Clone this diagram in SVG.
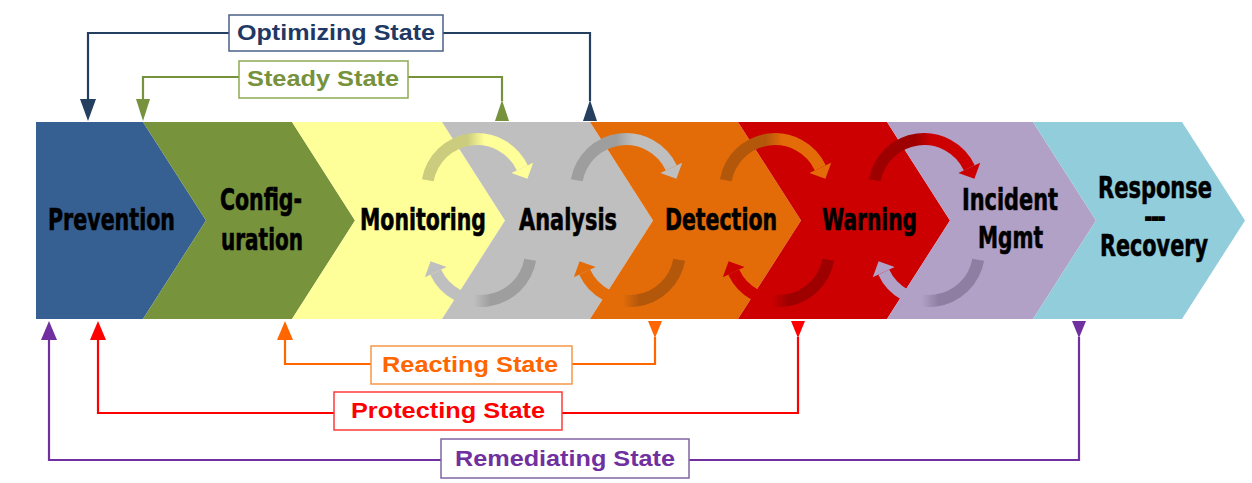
<svg xmlns="http://www.w3.org/2000/svg" width="1252" height="483" viewBox="0 0 1252 483">
  <style>
    .stage { font-family: "Liberation Sans Narrow", "DejaVu Sans Condensed", "Liberation Sans", sans-serif; font-weight: bold; font-size: 31px; fill: #000; stroke: #000; stroke-width: 0.6; }
    .dash { font-size: 20px; stroke-width: 1.8; }
    .state { font-family: "Liberation Sans", Arial, sans-serif; font-weight: bold; font-size: 22px; }
    .box { fill: #fff; stroke-width: 1.5; }
    .link { fill: none; stroke-width: 2.2; }
  </style>
  <defs>
    <!-- curved cycle arrow, drawn around its own centre -->
    <path id="arc" d="M -49.2 -8.7 A 50 50 0 0 1 45.3 -21.1" fill="none" stroke-width="12"/>
    <polygon id="head" points="56.2,-26.2 34.4,-16 50.4,-10.2"/>
    <linearGradient id="gYellow" x1="0" y1="0" x2="1" y2="0">
      <stop offset="0" stop-color="#CCCC7E"/><stop offset="0.42" stop-color="#CCCC7E"/>
      <stop offset="0.6" stop-color="#FFFF99"/><stop offset="1" stop-color="#FFFF99"/>
    </linearGradient>
    <linearGradient id="gGray" x1="0" y1="0" x2="1" y2="0">
      <stop offset="0" stop-color="#9E9E9E"/><stop offset="0.42" stop-color="#9E9E9E"/>
      <stop offset="0.6" stop-color="#BFBFBF"/><stop offset="1" stop-color="#BFBFBF"/>
    </linearGradient>
    <linearGradient id="gOrange" x1="0" y1="0" x2="1" y2="0">
      <stop offset="0" stop-color="#B3570B"/><stop offset="0.42" stop-color="#B3570B"/>
      <stop offset="0.6" stop-color="#E36C09"/><stop offset="1" stop-color="#E36C09"/>
    </linearGradient>
    <linearGradient id="gRed" x1="0" y1="0" x2="1" y2="0">
      <stop offset="0" stop-color="#9E0000"/><stop offset="0.42" stop-color="#9E0000"/>
      <stop offset="0.6" stop-color="#CC0000"/><stop offset="1" stop-color="#CC0000"/>
    </linearGradient>
    <linearGradient id="gLavender" x1="0" y1="0" x2="1" y2="0">
      <stop offset="0" stop-color="#8E7FA2"/><stop offset="0.42" stop-color="#8E7FA2"/>
      <stop offset="0.6" stop-color="#B2A1C7"/><stop offset="1" stop-color="#B2A1C7"/>
    </linearGradient>
  </defs>

  <rect width="1252" height="483" fill="#fff"/>

  <!-- process chevrons -->
  <g id="prevention">
    <polygon points="36,122 143,122 206,220.5 143,319 36,319" fill="#376092"/>
    <text class="stage" x="48" y="230" textLength="127" lengthAdjust="spacingAndGlyphs">Prevention</text>
  </g>
  <g id="configuration">
    <polygon points="143,122 292,122 355,220.5 292,319 143,319 206,220.5" fill="#77933C"/>
    <text class="stage" x="220" y="210" textLength="82" lengthAdjust="spacingAndGlyphs">Config-</text>
    <text class="stage" x="221" y="250" textLength="82" lengthAdjust="spacingAndGlyphs">uration</text>
  </g>
  <g id="monitoring">
    <polygon points="292,122 442,122 505,220.5 442,319 292,319 355,220.5" fill="#FFFF99"/>
    <text class="stage" x="360" y="230" textLength="126" lengthAdjust="spacingAndGlyphs">Monitoring</text>
  </g>
  <g id="analysis">
    <polygon points="442,122 590,122 653,220.5 590,319 442,319 505,220.5" fill="#BFBFBF"/>
    <text class="stage" x="519" y="230" textLength="98" lengthAdjust="spacingAndGlyphs">Analysis</text>
  </g>
  <g id="detection">
    <polygon points="590,122 738,122 801,220.5 738,319 590,319 653,220.5" fill="#E36C09"/>
    <text class="stage" x="665" y="230" textLength="112" lengthAdjust="spacingAndGlyphs">Detection</text>
  </g>
  <g id="warning">
    <polygon points="738,122 887,122 950,220.5 887,319 738,319 801,220.5" fill="#CC0000"/>
    <text class="stage" x="822" y="230" textLength="95" lengthAdjust="spacingAndGlyphs">Warning</text>
  </g>
  <g id="incident-mgmt">
    <polygon points="887,122 1033,122 1096,220.5 1033,319 887,319 950,220.5" fill="#B2A1C7"/>
    <text class="stage" x="962" y="210" textLength="96" lengthAdjust="spacingAndGlyphs">Incident</text>
    <text class="stage" x="978" y="248" textLength="65" lengthAdjust="spacingAndGlyphs">Mgmt</text>
  </g>
  <g id="response-recovery">
    <polygon points="1033,122 1182,122 1245,220.5 1182,319 1033,319 1096,220.5" fill="#92CDDC"/>
    <text class="stage" x="1098" y="198" textLength="114" lengthAdjust="spacingAndGlyphs">Response</text>
    <text class="stage dash" x="1145" y="224" textLength="20" lengthAdjust="spacingAndGlyphs">---</text>
    <text class="stage" x="1100" y="256" textLength="108" lengthAdjust="spacingAndGlyphs">Recovery</text>
  </g>

  <!-- cycle arrows between neighbouring stages -->
  <g id="cycle-arrows">
    <g transform="translate(477,189)"><use href="#arc" stroke="url(#gYellow)"/><use href="#head" fill="#FFFF99"/></g>
    <g transform="translate(626,189)"><use href="#arc" stroke="url(#gGray)"/><use href="#head" fill="#BFBFBF"/></g>
    <g transform="translate(775,189)"><use href="#arc" stroke="url(#gOrange)"/><use href="#head" fill="#E36C09"/></g>
    <g transform="translate(924,189)"><use href="#arc" stroke="url(#gRed)"/><use href="#head" fill="#CC0000"/></g>
    <g transform="translate(481,251) rotate(180)"><use href="#arc" stroke="url(#gGray)"/><use href="#head" fill="#BFBFBF"/></g>
    <g transform="translate(630,251) rotate(180)"><use href="#arc" stroke="url(#gOrange)"/><use href="#head" fill="#E36C09"/></g>
    <g transform="translate(779,251) rotate(180)"><use href="#arc" stroke="url(#gRed)"/><use href="#head" fill="#CC0000"/></g>
    <g transform="translate(929,251) rotate(180)"><use href="#arc" stroke="url(#gLavender)"/><use href="#head" fill="#B2A1C7"/></g>
  </g>

  <!-- state feedback loops -->
  <g id="connectors">
    <path class="link" stroke="#243F60" d="M 88 100 V 33 H 590 V 101"/>
    <polygon fill="#243F60" points="80,99 96,99 88,121"/>
    <polygon fill="#243F60" points="583,121 597,121 590,100"/>

    <path class="link" stroke="#76923C" d="M 143 100 V 77 H 502 V 101"/>
    <polygon fill="#76923C" points="136,99 150,99 143,121"/>
    <polygon fill="#76923C" points="495,121 509,121 502,100"/>

    <path class="link" stroke="#FF6600" d="M 285 339 V 364 H 655 V 337"/>
    <polygon fill="#FF6600" points="277,340 293,340 285,321"/>
    <polygon fill="#FF6600" points="648,321 662,321 655,338"/>

    <path class="link" stroke="#FF0000" d="M 98 339 V 413 H 798 V 337"/>
    <polygon fill="#FF0000" points="90,340 106,340 98,321"/>
    <polygon fill="#FF0000" points="791,321 805,321 798,338"/>

    <path class="link" stroke="#7030A0" d="M 49 339 V 460 H 1079 V 337"/>
    <polygon fill="#7030A0" points="41,340 57,340 49,321"/>
    <polygon fill="#7030A0" points="1072,321 1086,321 1079,338"/>
  </g>

  <!-- state labels -->
  <g id="optimizing-state">
    <rect class="box" x="229" y="15" width="214" height="36" stroke="#4A6287"/>
    <text class="state" x="237" y="40" fill="#1F3864" textLength="198" lengthAdjust="spacingAndGlyphs">Optimizing State</text>
  </g>
  <g id="steady-state">
    <rect class="box" x="239" y="61" width="169" height="37" stroke="#8DAA52"/>
    <text class="state" x="247" y="86" fill="#76923C" textLength="152" lengthAdjust="spacingAndGlyphs">Steady State</text>
  </g>
  <g id="reacting-state">
    <rect class="box" x="371" y="346" width="201" height="38" stroke="#F79646"/>
    <text class="state" x="382" y="372" fill="#FF6600" textLength="176" lengthAdjust="spacingAndGlyphs">Reacting State</text>
  </g>
  <g id="protecting-state">
    <rect class="box" x="334" y="392" width="228" height="38" stroke="#FF3B3B"/>
    <text class="state" x="351" y="418" fill="#FF0000" textLength="194" lengthAdjust="spacingAndGlyphs">Protecting State</text>
  </g>
  <g id="remediating-state">
    <rect class="box" x="441" y="439" width="248" height="39" stroke="#8064A2"/>
    <text class="state" x="455" y="466" fill="#7030A0" textLength="220" lengthAdjust="spacingAndGlyphs">Remediating State</text>
  </g>
</svg>
